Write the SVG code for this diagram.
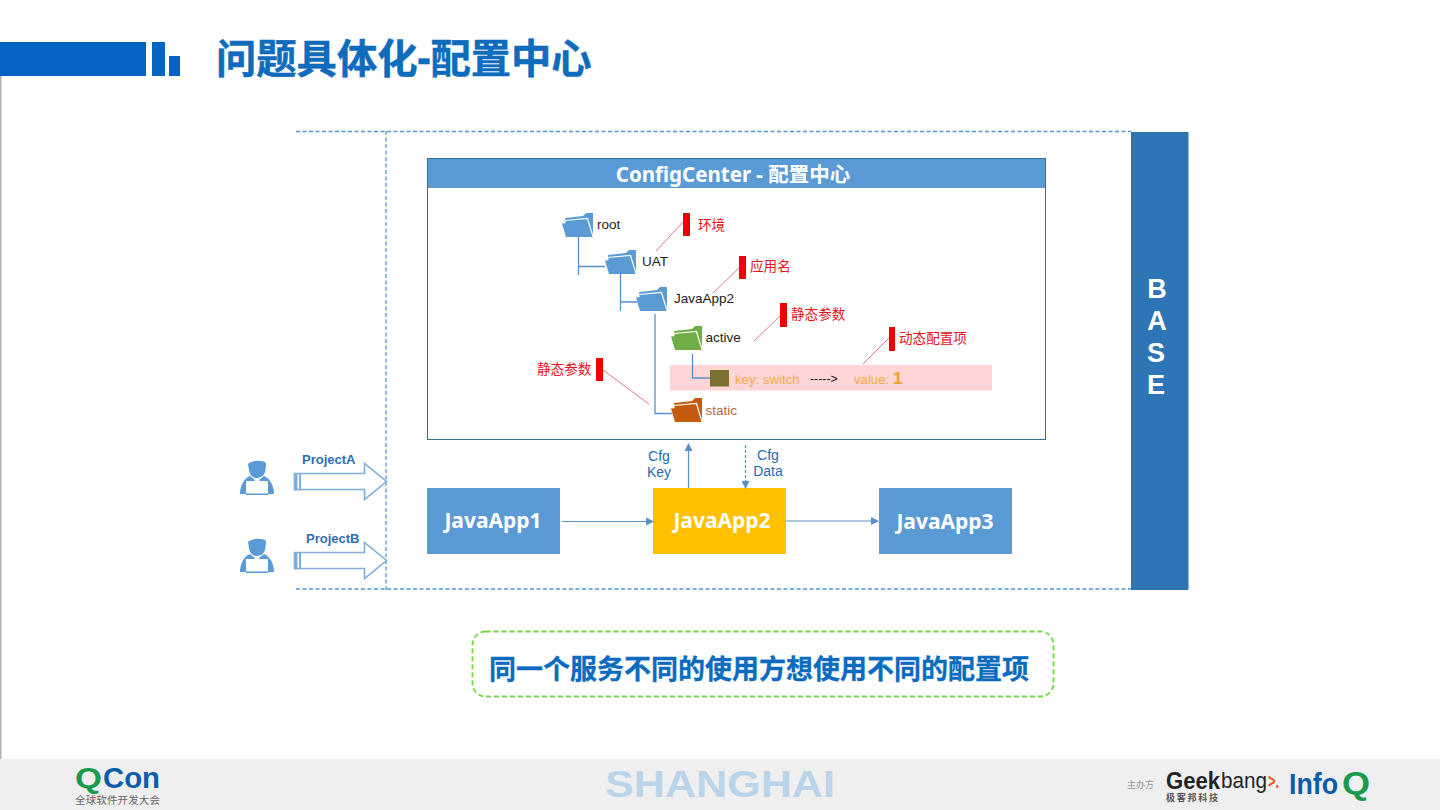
<svg xmlns="http://www.w3.org/2000/svg" width="1440" height="810" viewBox="0 0 1440 810">
<style>
text{font-family:"Liberation Sans","Noto Sans CJK SC",sans-serif}
.ya{font-family:"Noto Sans","Noto Sans CJK SC",sans-serif}
.app{font-family:"Noto Sans","Noto Sans CJK SC",sans-serif;font-size:21px;font-weight:700;fill:#fff;text-anchor:middle}
.box{fill:#5b9bd5}
.tree{font-size:13.500px;fill:#222}
.red{font-size:13.600px;fill:#e8141c}
.mark{fill:#f00000}
.lead{stroke:#e0566a;stroke-width:.8;fill:none}
.branch{stroke:#5b8fc7;stroke-width:1.3;fill:none}
.dash{stroke:#4f97d6;stroke-width:1.300;stroke-dasharray:4 2.500;fill:none}
.conn{stroke:#5b8fc7;stroke-width:1.2;fill:none}
.cfg{font-size:14px;fill:#1f6cb0;text-anchor:middle}
.proj{font-size:13px;font-weight:700;fill:#2e6fb3}
.hollow{fill:#fff;stroke:#7fb0dd;stroke-width:1.600}
.baseletter{font-size:27px;font-weight:700;fill:#fff;text-anchor:middle}
</style>
<defs>
<marker id="arr" markerUnits="userSpaceOnUse" markerWidth="8" markerHeight="8" refX="7" refY="4" orient="auto"><path d="M0 0L8 4L0 8Z" fill="#5b8fc7"/></marker>
<g id="folder">
<path d="M3 5L21 3L24 0L31 0L31 24L5 24Z" fill="currentColor"/>
<path d="M3 7.500L25.500 5.500L31 24" fill="none" stroke="#fff" stroke-width="1.200"/>
<path d="M0 10.500L25 8.500L30.500 24L4 24Z" fill="currentColor"/>
</g>
<g id="person" fill="#5b9bd5">
<path d="M8 3C12 -1 23 -1 26 2L25.500 9C25 14 21 17 17 17C13 17 9.500 14 9 9Z"/>
<path d="M10 15L15 19L7 33L0 33C0 26 3 18 10 15ZM24 15L19 19L27 33L34 33C34 26 31 18 24 15Z"/>
<rect x="6" y="20" width="22" height="12.500" fill="#fff"/>
<rect x="6" y="32.500" width="22" height="1.500"/>
</g>
<g id="hollowArrow">
<path class="hollow" d="M0 10H70V0L92 18L70 36V26H0Z"/>
<rect x="0" y="10" width="3" height="17" fill="#7fb0dd"/>
<rect x="4.500" y="10" width="2" height="17" fill="#7fb0dd"/>
</g>
</defs>
<rect width="1440" height="810" fill="#fff"/>
<rect x="0" y="76" width="1.500" height="684" fill="#b0b0b0"/>
<g id="header">
<rect x="0" y="42" width="146" height="34" fill="#0563c1"/>
<rect x="152" y="42" width="13" height="34" fill="#0563c1"/>
<rect x="169" y="56" width="11" height="20" fill="#0563c1"/>
<text x="216" y="73" class="ya" font-size="40.300" font-weight="700" fill="#0f6cbd" stroke="#0f6cbd" stroke-width=".5">问题具体化-配置中心</text>
</g>
<g id="footer">
<rect x="0" y="759" width="1440" height="51" fill="#efefef"/>
<text x="75" y="788" font-size="29" font-weight="700" fill="#1a9a4c" textLength="27" lengthAdjust="spacingAndGlyphs">Q</text>
<text x="103" y="788" font-size="29" font-weight="700" fill="#0b5cab" textLength="57" lengthAdjust="spacingAndGlyphs">Con</text>
<text x="75" y="804" font-size="10.500" fill="#666" textLength="85">全球软件开发大会</text>
<text x="720" y="797" font-size="37" font-weight="700" fill="#bcd4e9" text-anchor="middle" textLength="230" lengthAdjust="spacingAndGlyphs">SHANGHAI</text>
<text x="1127" y="788" font-size="9" fill="#999">主办方</text>
<text x="1166" y="789" font-size="24" font-weight="700" fill="#222" textLength="54" lengthAdjust="spacingAndGlyphs">Geek</text>
<text x="1221" y="788" font-size="22" fill="#222" textLength="46" lengthAdjust="spacingAndGlyphs">bang</text>
<text x="1268" y="788" font-size="20" font-weight="700" fill="#e8541c" textLength="11" lengthAdjust="spacingAndGlyphs">&gt;.</text>
<text x="1166" y="801" font-size="9" font-weight="700" fill="#555" textLength="52">极客邦科技</text>
<text x="1289" y="794" font-size="30" font-weight="700" fill="#0b5cab" textLength="49" lengthAdjust="spacingAndGlyphs">Info</text>
<text x="1342" y="794" font-size="31" font-weight="700" fill="#1a9a4c" textLength="28" lengthAdjust="spacingAndGlyphs">Q</text>
</g>
<g id="frame">
<path class="dash" d="M296 131.500H1131M296 589H1131M386 131V592"/>
</g>
<g id="base">
<rect x="1131" y="132" width="57.500" height="458" fill="#2e75b6"/>
<text x="1157" y="298" class="baseletter">B</text>
<text x="1157" y="330" class="baseletter">A</text>
<text x="1156" y="362" class="baseletter">S</text>
<text x="1156" y="394" class="baseletter">E</text>
</g>
<g id="configcenter">
<rect x="427.500" y="158.500" width="618" height="281" fill="#fff" stroke="#2f7396" stroke-width="1"/>
<rect x="428" y="159" width="617" height="29" fill="#5b9bd5"/>
<text x="733" y="182" class="ya" font-size="20.500" font-weight="700" fill="#fff" text-anchor="middle">ConfigCenter - 配置中心</text>
</g>
<g id="highlight"><rect x="670" y="365" width="322" height="25.500" fill="#ffd5d5"/></g>
<g id="tree-lines">
<path class="branch" d="M578.500 236V275M578.500 266.500H605M620.500 274V311M620.500 302H637M655 314V413.500H672M692.500 354V378H710"/>
</g>
<g id="node-root"><use href="#folder" x="562" y="213" color="#5b9bd5"/><text class="tree" x="597" y="229">root</text></g>
<g id="node-uat"><use href="#folder" x="605" y="250" color="#5b9bd5"/><text class="tree" x="642" y="266">UAT</text></g>
<g id="node-javaapp2-folder"><use href="#folder" x="636" y="287" color="#5b9bd5"/><text class="tree" x="674" y="303">JavaApp2</text></g>
<g id="node-active"><use href="#folder" x="671" y="326" color="#70ad47"/><text class="tree" x="705.500" y="342">active</text></g>
<g id="node-key"><rect x="710" y="370" width="19" height="16.500" fill="#7a7030"/>
<text x="735" y="384" font-size="13.200" fill="#f6a647">key: switch</text>
<text x="810" y="383" font-size="12.300" fill="#111">-----&gt;</text>
<text x="854" y="384" font-size="13.200" fill="#f6a647">value:</text>
<text x="893" y="384" font-size="17" font-weight="700" fill="#f6a020">1</text></g>
<g id="node-static"><use href="#folder" x="671" y="398" color="#c55a11"/><text x="705.500" y="415" font-size="13.500" fill="#b5693a">static</text></g>
<g id="annotations">
<path class="lead" d="M656 251L684 221M713 293L740 267M754 341L781 315M863 364L890 337M603 370L649 404"/>
<rect class="mark" x="683" y="213" width="7" height="23"/><text class="red" x="698" y="230">环境</text>
<rect class="mark" x="739" y="256" width="7" height="23"/><text class="red" x="750" y="271">应用名</text>
<rect class="mark" x="780" y="303" width="7" height="24"/><text class="red" x="791" y="319">静态参数</text>
<rect class="mark" x="889" y="327" width="6" height="24"/><text class="red" x="899" y="343">动态配置项</text>
<rect class="mark" x="596" y="358" width="7" height="23"/><text class="red" x="537" y="374">静态参数</text>
</g>
<g id="javaapp1"><rect class="box" x="427" y="488" width="133" height="66"/><text class="app" x="493" y="528">JavaApp1</text></g>
<g id="javaapp2"><rect x="653" y="488" width="133" height="66" fill="#ffc000"/><text class="app" x="722" y="528">JavaApp2</text></g>
<g id="javaapp3"><rect class="box" x="879" y="488" width="133" height="66"/><text class="app" x="945" y="529">JavaApp3</text></g>
<g id="connectors">
<path class="conn" marker-end="url(#arr)" d="M562 521.500H653"/>
<path class="conn" marker-end="url(#arr)" d="M786 521H878"/>
<path class="conn" marker-end="url(#arr)" d="M688.500 488V444"/>
<path class="conn" stroke-dasharray="3 2" marker-end="url(#arr)" d="M745.500 445V488"/>
</g>
<g id="cfg-labels">
<text class="cfg" x="659" y="461">Cfg</text><text class="cfg" x="659" y="477">Key</text>
<text class="cfg" x="768" y="460">Cfg</text><text class="cfg" x="768" y="476">Data</text>
</g>
<g id="projecta">
<use href="#person" x="240" y="461"/>
<use href="#hollowArrow" x="294.500" y="463.500"/>
<text class="proj" x="302" y="464">ProjectA</text>
</g>
<g id="projectb">
<use href="#person" x="240" y="539"/>
<use href="#hollowArrow" x="294.500" y="542.500"/>
<text class="proj" x="306" y="543">ProjectB</text>
</g>
<g id="note">
<rect x="472.500" y="631.500" width="581" height="65" rx="13" fill="#fff" stroke="#6fdc3c" stroke-width="1.800" stroke-dasharray="5 3"/>
<text x="759" y="679" class="ya" font-size="27" font-weight="700" fill="#0b6cbf" stroke="#0b6cbf" stroke-width=".3" text-anchor="middle">同一个服务不同的使用方想使用不同的配置项</text>
</g>
</svg>
